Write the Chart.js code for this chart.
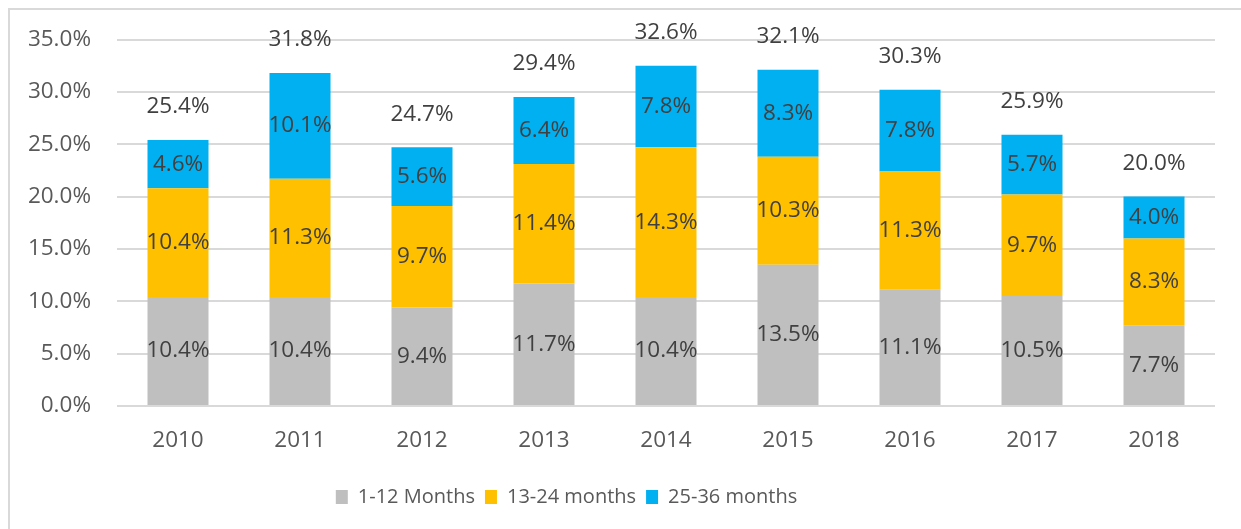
<!DOCTYPE html>
<html>
<head>
<meta charset="utf-8">
<script src="https://cdn.jsdelivr.net/npm/chart.js@4/dist/chart.umd.min.js"></script>
<style>
  html, body { margin: 0; padding: 0; background: #fff; }
  #wrap { width: 1241px; height: 529px; position: relative; }
</style>
</head>
<body>
<div id="wrap"><canvas id="chart" width="1241" height="529"></canvas></div>
<script>
var years = ['2010', '2011', '2012', '2013', '2014', '2015', '2016', '2017', '2018'];
var months1to12 = [10.4, 10.4, 9.4, 11.7, 10.4, 13.5, 11.1, 10.5, 7.7];
var months13to24 = [10.4, 11.3, 9.7, 11.4, 14.3, 10.3, 11.3, 9.7, 8.3];
var months25to36 = [4.6, 10.1, 5.6, 6.4, 7.8, 8.3, 7.8, 5.7, 4.0];
var totals = [25.4, 31.8, 24.7, 29.4, 32.6, 32.1, 30.3, 25.9, 20.0];

var fontFamily = '"Open Sans", "Noto Sans", sans-serif';

// light frame round the chart, like the office chart border
var framePlugin = {
  id: 'frame',
  afterLayout: function(chart) {
    // legend sits a bit left of centre in the original
    chart.legend.right -= 82;
  },
  beforeDraw: function(chart) {
    var ctx = chart.ctx;
    ctx.save();
    ctx.strokeStyle = '#d9d9d9';
    ctx.lineWidth = 2;
    ctx.beginPath();
    ctx.moveTo(9, chart.height);
    ctx.lineTo(9, 9);
    ctx.lineTo(chart.width, 9);
    ctx.stroke();
    ctx.restore();
  }
};

// value labels inside each segment, totals above the stack
var labelPlugin = {
  id: 'valueLabels',
  afterDatasetsDraw: function(chart) {
    var ctx = chart.ctx;
    ctx.save();
    ctx.fillStyle = '#404040';
    ctx.font = '22.5px ' + fontFamily;
    ctx.textAlign = 'center';
    ctx.textBaseline = 'middle';
    chart.data.datasets.forEach(function(ds, i) {
      var meta = chart.getDatasetMeta(i);
      meta.data.forEach(function(bar, j) {
        ctx.fillText(ds.data[j].toFixed(1) + '%', bar.x, (bar.y + bar.base) / 2);
      });
    });
    var top = chart.getDatasetMeta(chart.data.datasets.length - 1);
    top.data.forEach(function(bar, j) {
      ctx.fillText(totals[j].toFixed(1) + '%', bar.x, bar.y - 33);
    });
    ctx.restore();
  }
};

new Chart(document.getElementById('chart'), {
  type: 'bar',
  data: {
    labels: years,
    datasets: [
      { label: '1-12 Months', data: months1to12, backgroundColor: '#bfbfbf' },
      { label: '13-24 months', data: months13to24, backgroundColor: '#ffc000' },
      { label: '25-36 months', data: months25to36, backgroundColor: '#00b0f0' }
    ]
  },
  options: {
    responsive: false,
    animation: false,
    layout: { padding: { top: 38, right: 26, bottom: 12, left: 0 } },
    datasets: { bar: { barPercentage: 0.5, categoryPercentage: 1.0 } },
    scales: {
      x: {
        stacked: true,
        grid: { display: false, drawTicks: false },
        border: { display: false },
        ticks: { color: '#595959', font: { family: fontFamily, size: 22.5 }, padding: 21 },
        afterFit: function(scale) { scale.height = 71; }
      },
      y: {
        stacked: true,
        min: 0,
        max: 35,
        grid: { color: '#d9d9d9', lineWidth: 2, drawTicks: false },
        border: { display: false },
        ticks: {
          stepSize: 5,
          color: '#595959',
          font: { family: fontFamily, size: 22.5 },
          padding: 26,
          callback: function(v) { return v.toFixed(1) + '%'; }
        },
        afterFit: function(scale) { scale.width = 117; }
      }
    },
    plugins: {
      tooltip: { enabled: false },
      legend: {
        position: 'bottom',
        labels: {
          boxWidth: 12,
          boxHeight: 14,
          padding: 10,
          color: '#595959',
          font: { family: fontFamily, size: 20 }
        }
      }
    }
  },
  plugins: [framePlugin, labelPlugin]
});
</script>
</body>
</html>
